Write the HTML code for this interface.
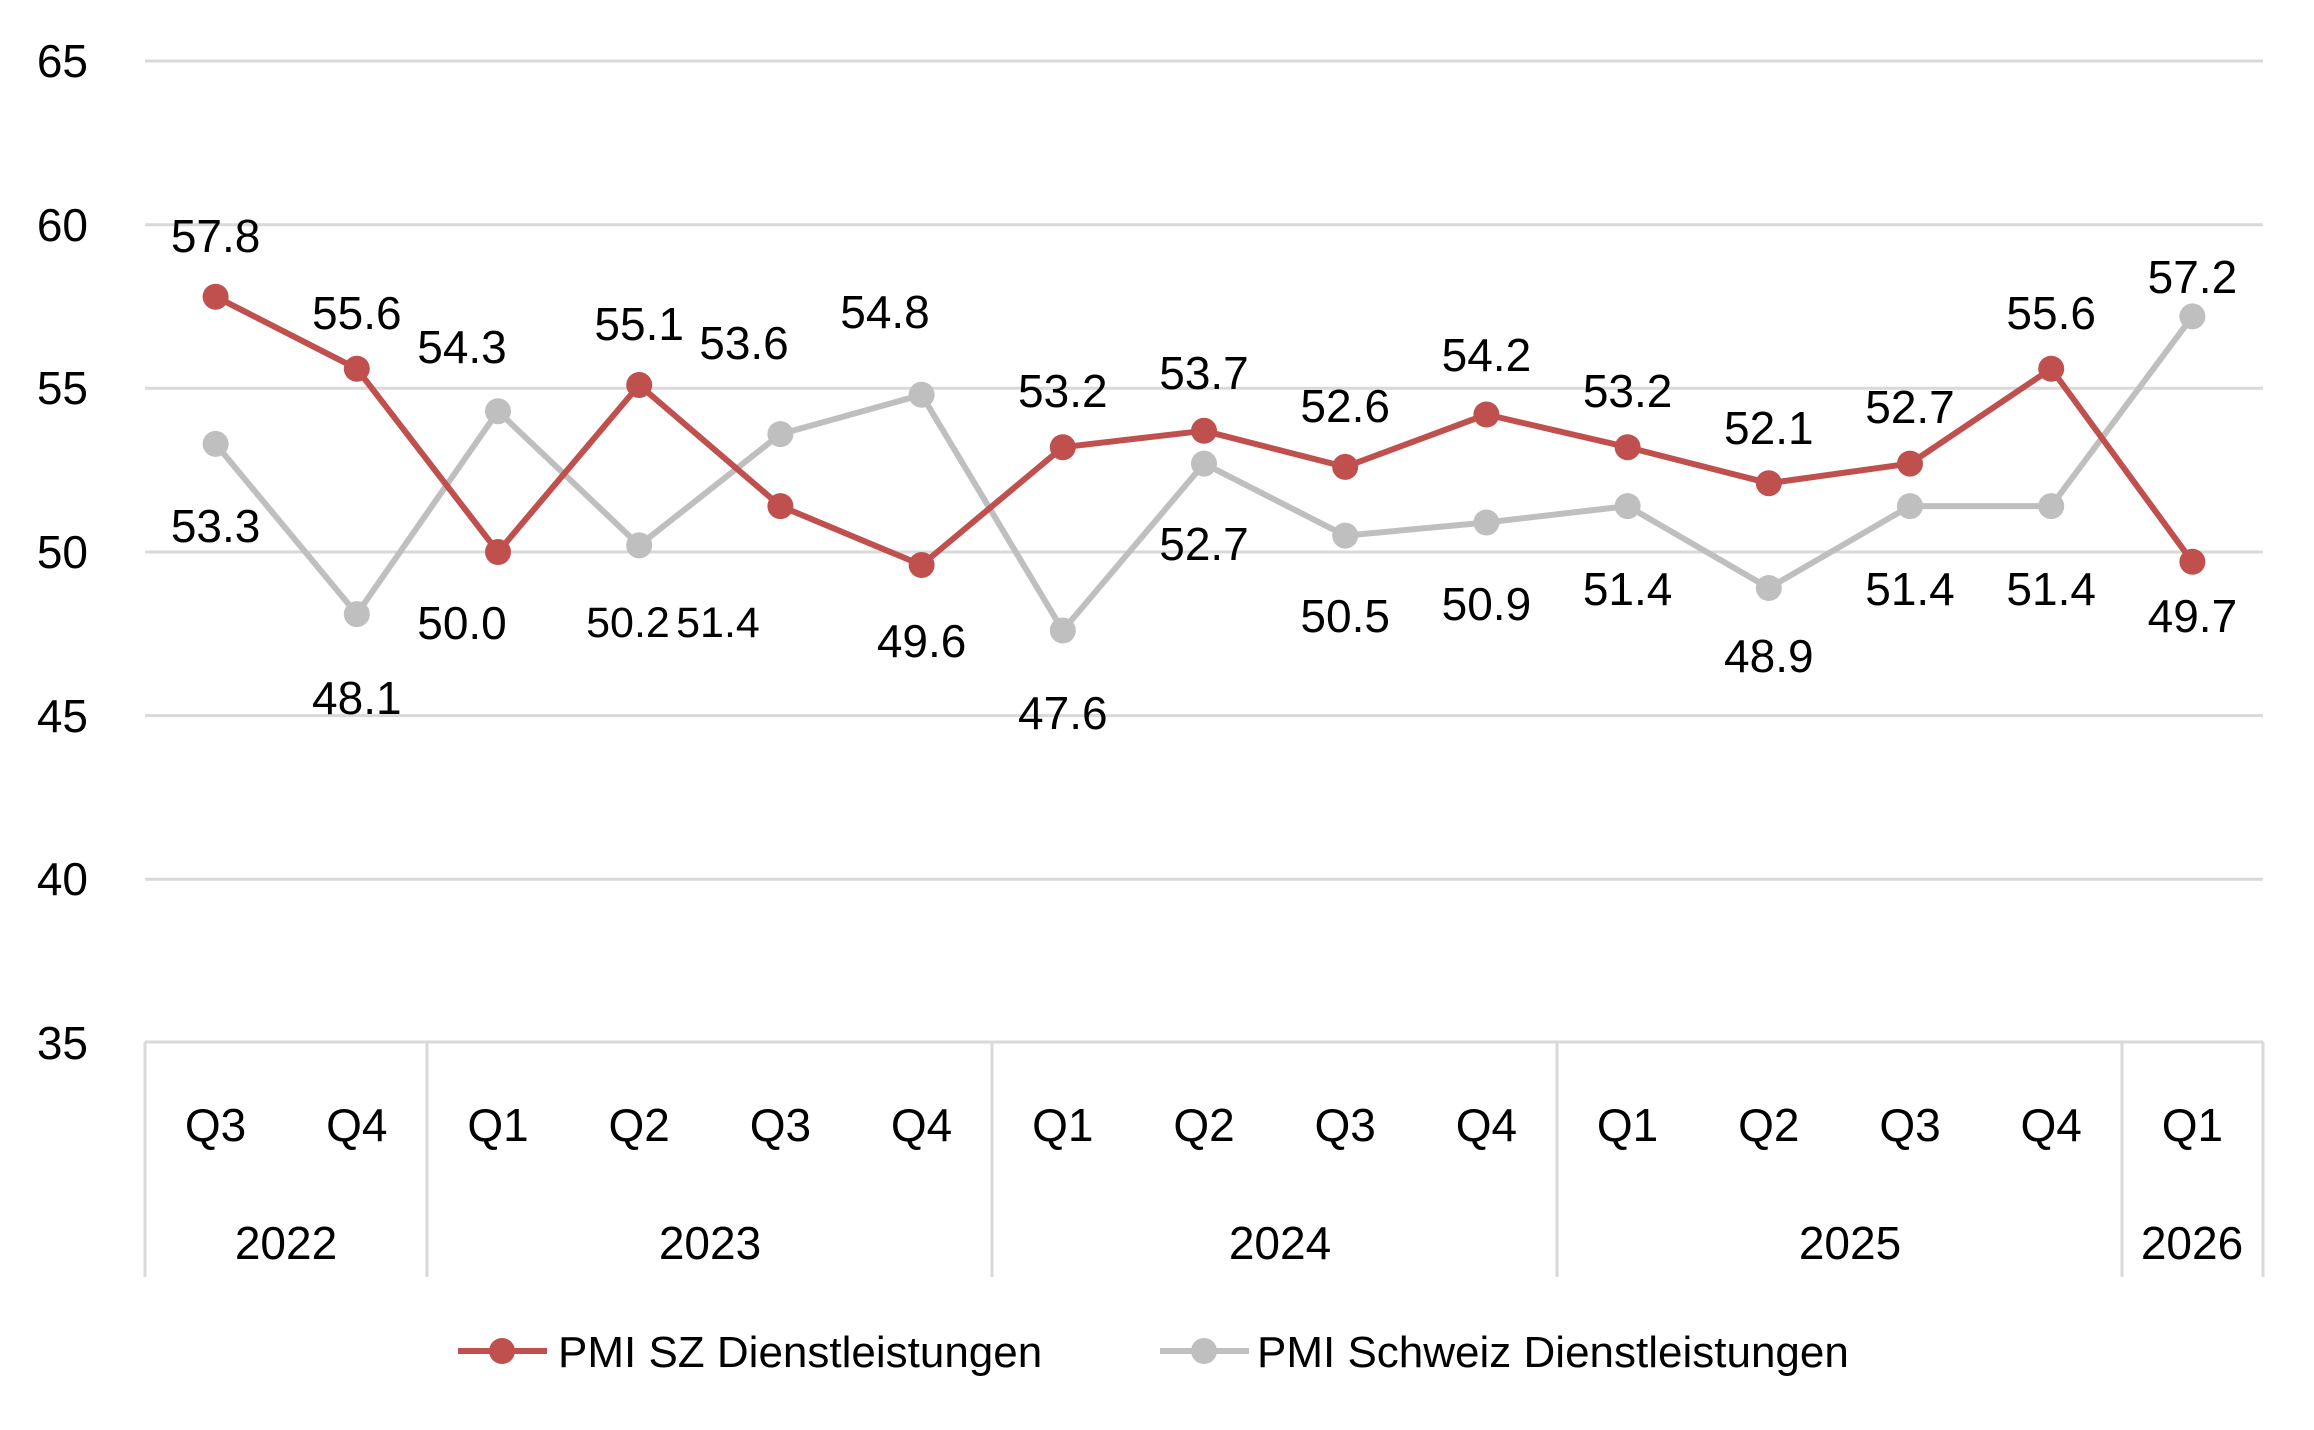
<!DOCTYPE html>
<html><head><meta charset="utf-8"><style>
html,body{margin:0;padding:0;background:#fff;}
svg{display:block;}
text{font-family:"Liberation Sans",sans-serif;fill:#000;}
</style></head><body>
<svg width="2314" height="1430" viewBox="0 0 2314 1430" xmlns="http://www.w3.org/2000/svg">
<g stroke="#D9D9D9" stroke-width="3">
<line x1="145" y1="61" x2="2263" y2="61"/>
<line x1="145" y1="224.7" x2="2263" y2="224.7"/>
<line x1="145" y1="388.3" x2="2263" y2="388.3"/>
<line x1="145" y1="552" x2="2263" y2="552"/>
<line x1="145" y1="715.6" x2="2263" y2="715.6"/>
<line x1="145" y1="879.3" x2="2263" y2="879.3"/>
<line x1="145" y1="1042" x2="2263" y2="1042"/>
<line x1="145" y1="1042" x2="145" y2="1277"/>
<line x1="427" y1="1042" x2="427" y2="1277"/>
<line x1="992" y1="1042" x2="992" y2="1277"/>
<line x1="1557" y1="1042" x2="1557" y2="1277"/>
<line x1="2122" y1="1042" x2="2122" y2="1277"/>
<line x1="2263" y1="1042" x2="2263" y2="1277"/>
</g>
<g font-size="46" text-anchor="end" dominant-baseline="central">
<text x="88" y="61">65</text><text x="88" y="225">60</text><text x="88" y="388">55</text>
<text x="88" y="552">50</text><text x="88" y="716">45</text><text x="88" y="879">40</text><text x="88" y="1043">35</text>
</g>
<g font-size="46" text-anchor="middle">
<text x="215.6" y="1141">Q3</text><text x="356.8" y="1141">Q4</text><text x="498" y="1141">Q1</text><text x="639.2" y="1141">Q2</text><text x="780.4" y="1141">Q3</text><text x="921.6" y="1141">Q4</text><text x="1062.8" y="1141">Q1</text><text x="1204" y="1141">Q2</text><text x="1345.2" y="1141">Q3</text><text x="1486.4" y="1141">Q4</text><text x="1627.6" y="1141">Q1</text><text x="1768.8" y="1141">Q2</text><text x="1910" y="1141">Q3</text><text x="2051.2" y="1141">Q4</text><text x="2192.4" y="1141">Q1</text>
<text x="286" y="1259">2022</text><text x="710" y="1259">2023</text><text x="1280" y="1259">2024</text><text x="1850" y="1259">2025</text><text x="2192" y="1259">2026</text>
</g>
<g fill="none" stroke-width="6" stroke-linejoin="round">
<polyline stroke="#BFBFBF" points="215.6,443.9 356.8,614.1 498,411.2 639.2,545.4 780.4,434.1 921.6,394.8 1062.8,630.5 1204,463.6 1345.2,535.6 1486.4,522.5 1627.6,506.1 1768.8,588 1910,506.1 2051.2,506.1 2192.4,316.4"/>
<polyline stroke="#C0504D" points="215.6,296.7 356.8,368.7 498,552 639.2,385 780.4,506.1 921.6,565 1062.8,447.2 1204,430.8 1345.2,466.9 1486.4,414.5 1627.6,447.2 1768.8,483.2 1910,463.6 2051.2,368.7 2192.4,561.8"/>
</g>
<g fill="#BFBFBF">
<circle cx="215.6" cy="443.9" r="13"/><circle cx="356.8" cy="614.1" r="13"/><circle cx="498" cy="411.2" r="13"/><circle cx="639.2" cy="545.4" r="13"/><circle cx="780.4" cy="434.1" r="13"/><circle cx="921.6" cy="394.8" r="13"/><circle cx="1062.8" cy="630.5" r="13"/><circle cx="1204" cy="463.6" r="13"/><circle cx="1345.2" cy="535.6" r="13"/><circle cx="1486.4" cy="522.5" r="13"/><circle cx="1627.6" cy="506.1" r="13"/><circle cx="1768.8" cy="588" r="13"/><circle cx="1910" cy="506.1" r="13"/><circle cx="2051.2" cy="506.1" r="13"/><circle cx="2192.4" cy="316.4" r="13"/>
</g>
<g fill="#C0504D">
<circle cx="215.6" cy="296.7" r="13"/><circle cx="356.8" cy="368.7" r="13"/><circle cx="498" cy="552" r="13"/><circle cx="639.2" cy="385" r="13"/><circle cx="780.4" cy="506.1" r="13"/><circle cx="921.6" cy="565" r="13"/><circle cx="1062.8" cy="447.2" r="13"/><circle cx="1204" cy="430.8" r="13"/><circle cx="1345.2" cy="466.9" r="13"/><circle cx="1486.4" cy="414.5" r="13"/><circle cx="1627.6" cy="447.2" r="13"/><circle cx="1768.8" cy="483.2" r="13"/><circle cx="1910" cy="463.6" r="13"/><circle cx="2051.2" cy="368.7" r="13"/><circle cx="2192.4" cy="561.8" r="13"/>
</g>
<g font-size="46" text-anchor="middle" dominant-baseline="central">
<text x="215.6" y="236">57.8</text><text x="356.8" y="313">55.6</text><text x="462" y="623">50.0</text><text x="639.2" y="324">55.1</text><text x="718" y="623" font-size="43">51.4</text><text x="921.6" y="641">49.6</text><text x="1062.8" y="391">53.2</text><text x="1204" y="373">53.7</text><text x="1345.2" y="406">52.6</text><text x="1486.4" y="355">54.2</text><text x="1627.6" y="391">53.2</text><text x="1768.8" y="428">52.1</text><text x="1910" y="407">52.7</text><text x="2051.2" y="313">55.6</text><text x="2192.4" y="616">49.7</text>
<text x="215.6" y="526">53.3</text><text x="356.8" y="698">48.1</text><text x="462" y="347">54.3</text><text x="628" y="623" font-size="43">50.2</text><text x="744" y="343">53.6</text><text x="885" y="312">54.8</text><text x="1062.8" y="713">47.6</text><text x="1204" y="544">52.7</text><text x="1345.2" y="616">50.5</text><text x="1486.4" y="604">50.9</text><text x="1627.6" y="589">51.4</text><text x="1768.8" y="656">48.9</text><text x="1910" y="589">51.4</text><text x="2051.2" y="589">51.4</text><text x="2192.4" y="277">57.2</text>
</g>
<line x1="458" y1="1351" x2="547" y2="1351" stroke="#C0504D" stroke-width="6"/>
<circle cx="502" cy="1351" r="13" fill="#C0504D"/>
<text x="558" y="1367" font-size="44">PMI SZ Dienstleistungen</text>
<line x1="1160" y1="1351" x2="1249" y2="1351" stroke="#BFBFBF" stroke-width="6"/>
<circle cx="1204" cy="1351" r="13" fill="#BFBFBF"/>
<text x="1257" y="1367" font-size="44">PMI Schweiz Dienstleistungen</text>
</svg>
</body></html>
